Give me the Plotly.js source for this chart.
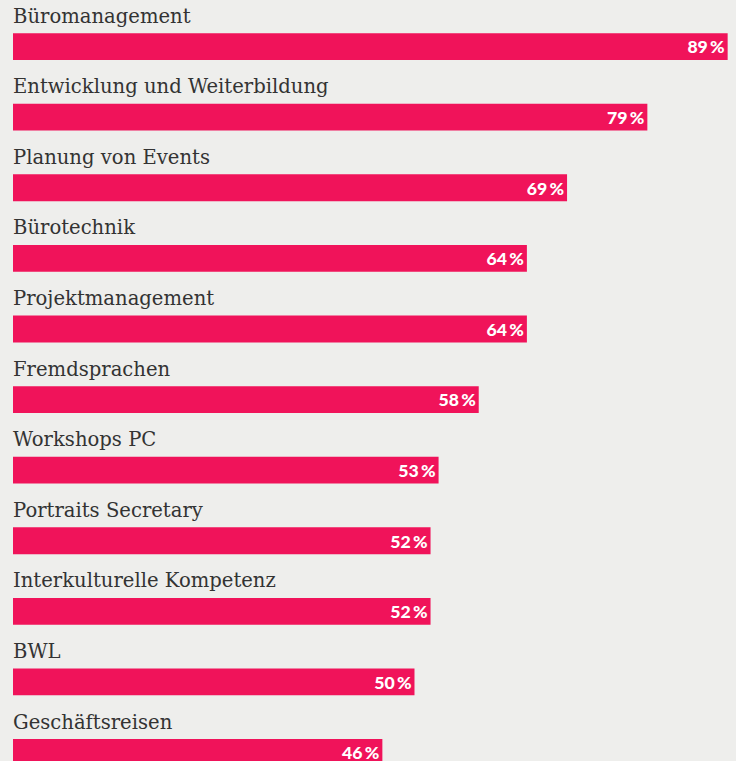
<!DOCTYPE html>
<html>
<head>
<meta charset="utf-8">
<script src="https://cdn.plot.ly/plotly-3.0.1.min.js"></script>
<style>
html,body{margin:0;padding:0;background:#eeeeec;overflow:hidden;}
#chart{width:736px;height:761px;}
</style>
</head>
<body>
<div id="chart"></div>
<script>
const categories = ["Büromanagement","Entwicklung und Weiterbildung","Planung von Events","Bürotechnik","Projektmanagement","Fremdsprachen","Workshops PC","Portraits Secretary","Interkulturelle Kompetenz","BWL","Geschäftsreisen"];
const values = [89,79,69,64,64,58,53,52,52,50,46];
const valueLabels = values.map(v => v + "\u2009%");

const idx = categories.map((c,i)=>i);

const trace = {
  type: 'bar',
  orientation: 'h',
  x: values,
  y: idx,
  width: 0.38,
  marker: {color: '#f0135a'},
  text: valueLabels,
  textposition: 'inside',
  insidetextanchor: 'end',
  textangle: 0,
  textfont: {family: 'Lato', size: 19.5, color: '#ffffff', weight: 900},
  hoverinfo: 'none',
  cliponaxis: false
};

const annotations = categories.map((c,i)=>({
  x: 0, y: i, xref: 'x', yref: 'y',
  text: c, showarrow: false,
  xanchor: 'left', yanchor: 'middle',
  yshift: 30.5, xshift: -2,
  font: {family: 'DejaVu Serif', size: 19.6, color: '#333333'}
}));

const layout = {
  width: 736, height: 761,
  margin: {l: 13, r: 0, t: 0, b: 0},
  paper_bgcolor: '#eeeeec',
  plot_bgcolor: '#eeeeec',
  showlegend: false,
  xaxis: {range: [0, 90.04], visible: false, fixedrange: true},
  yaxis: {range: [10.12, -0.66], visible: false, fixedrange: true},
  annotations: annotations,
  uniformtext: {mode: false}
};

Plotly.newPlot('chart', [trace], layout, {displayModeBar: false, staticPlot: true});
</script>
</body>
</html>
